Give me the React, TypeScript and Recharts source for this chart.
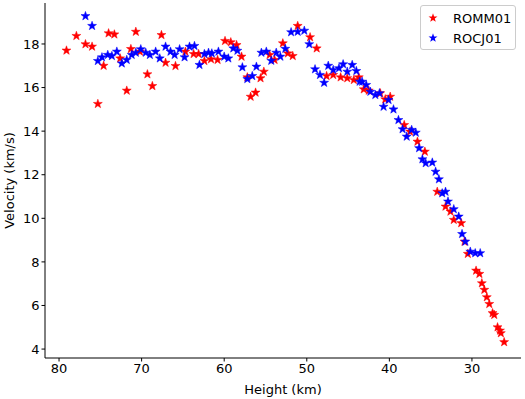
import { Scatter, ScatterChart, XAxis, YAxis } from "recharts";

// ROMM01 (red)
const rommHeight = [
  79.1, 77.9, 76.8, 76.0, 75.3, 74.6, 74.0, 73.3, 72.6, 71.8, 71.3, 70.7, 70.2,
  69.3, 68.7, 67.6, 67.1, 65.9, 64.7, 63.7, 63.1, 62.4, 61.6, 60.8, 59.9, 59.2,
  58.5, 57.9, 57.2, 56.8, 56.2, 55.6, 55.2, 54.5, 53.9, 52.9, 52.3, 51.7, 51.1,
  49.6, 48.8, 47.6, 46.8, 45.9, 45.1, 44.3, 43.7, 43.1, 42.5, 41.1, 40.5, 39.9,
  38.2, 37.5, 36.6, 35.7, 34.2, 33.2, 32.6, 32.2, 31.3, 30.9, 30.5, 29.5, 29.1,
  28.8, 28.5, 28.2, 27.9, 27.5, 27.3, 26.9, 26.6, 26.5, 26.1,
];
const rommVelocity = [
  17.7, 18.37, 17.99, 17.88, 15.25, 17.0, 18.49, 18.44, 17.34, 15.86, 17.77,
  18.56, 17.65, 16.61, 16.07, 18.41, 17.14, 16.99, 17.65, 17.54, 17.54, 17.22,
  17.3, 17.27, 18.14, 18.08, 17.95, 17.42, 16.47, 15.58, 15.77, 16.43, 16.73,
  17.5, 17.27, 18.03, 17.57, 17.45, 18.83, 18.31, 17.8, 16.53, 16.58, 16.47,
  16.43, 16.35, 16.47, 15.92, 15.86, 15.74, 15.46, 15.58, 14.28, 13.98, 13.52,
  13.06, 11.22, 10.54, 10.31, 9.93, 9.78, 8.93, 8.37, 7.6, 7.45, 7.02, 6.72,
  6.38, 6.07, 5.65, 5.57, 5.0, 4.85, 4.73, 4.32,
];

// ROCJ01 (blue)
const rocjHeight = [
  76.8, 76.0, 75.3, 74.8, 74.1, 73.6, 73.0, 72.4, 71.8, 71.2, 70.7, 70.1, 69.5,
  69.0, 68.3, 67.8, 67.1, 66.5, 66.0, 65.4, 64.8, 64.2, 63.6, 63.0, 62.4, 61.9,
  61.5, 60.7, 60.0, 59.5, 58.9, 58.4, 57.8, 57.2, 56.6, 56.1, 55.5, 54.9, 54.3,
  53.7, 53.2, 52.6, 51.9, 51.1, 50.3, 49.7, 49.0, 48.4, 47.9, 47.4, 46.8, 46.1,
  45.6, 45.1, 44.5, 44.0, 43.6, 43.3, 42.8, 42.3, 41.7, 41.2, 40.7, 40.1, 39.5,
  38.9, 38.4, 37.9, 37.3, 36.8, 36.4, 36.0, 35.6, 34.8, 34.4, 34.0, 33.6, 33.2,
  32.9, 32.2, 31.6, 31.2, 30.8, 30.2, 29.6, 29.0,
];
const rocjVelocity = [
  19.28, 18.83, 17.22, 17.39, 17.5, 17.45, 17.65, 17.11, 17.27, 17.5, 17.6,
  17.76, 17.6, 17.5, 17.65, 17.34, 17.88, 17.65, 17.5, 17.76, 17.39, 17.88,
  17.91, 17.04, 17.54, 17.6, 17.57, 17.65, 17.42, 17.34, 17.8, 17.69, 16.93,
  16.39, 16.53, 16.96, 17.6, 17.65, 17.23, 17.6, 17.42, 17.78, 18.54, 18.56,
  18.61, 17.99, 16.84, 16.58, 16.22, 17.0, 16.81, 16.89, 17.07, 16.73, 17.04,
  16.76, 16.27, 16.27, 16.12, 15.81, 15.66, 15.74, 15.12, 15.43, 15.0, 14.51,
  14.09, 13.75, 14.06, 13.93, 13.22, 12.71, 12.53, 12.56, 12.14, 11.79, 11.15,
  11.22, 10.77, 10.42, 10.08, 9.28, 8.93, 8.47, 8.4, 8.4,
];

const xTicks = [30, 40, 50, 60, 70, 80];
const yTicks = [4, 6, 8, 10, 12, 14, 16, 18];

const SERIES = [
  { name: "ROMM01", color: "#ff0000" },
  { name: "ROCJ01", color: "#0000ff" },
];

const romm = rommHeight.map((h, i) => ({ h, v: rommVelocity[i] }));
const rocj = rocjHeight.map((h, i) => ({ h, v: rocjVelocity[i] }));

const FONT = "'DejaVu Sans', sans-serif";
const FS = 13;
const X_DOMAIN = [24.06, 81.7];
const Y_DOMAIN = [3.59, 19.88];

function starPoints(cx: number, cy: number, r: number) {
  const inner = r * 0.4;
  const pts: string[] = [];
  for (let k = 0; k < 10; k++) {
    const rad = k % 2 === 0 ? r : inner;
    const a = -Math.PI / 2 + (k * Math.PI) / 5;
    pts.push(`${cx + rad * Math.cos(a)},${cy + rad * Math.sin(a)}`);
  }
  return pts.join(" ");
}

const makeStar = (color: string) => (props: any) => {
  const { cx, cy } = props;
  if (cx == null || cy == null) return <g />;
  return (
    <polygon
      points={starPoints(cx, cy, 4.7)}
      fill={color}
      stroke={color}
      strokeWidth={0.5}
    />
  );
};

function LegendBox() {
  return (
    <div
      style={{
        position: "absolute",
        left: 420,
        top: 5,
        width: 96,
        height: 45,
        boxSizing: "border-box",
        border: "1px solid #cccccc",
        borderRadius: 3,
        background: "rgba(255,255,255,0.8)",
        padding: "2px 0 0 6px",
        fontFamily: FONT,
        fontSize: FS,
        color: "#000",
      }}
    >
      {SERIES.map((s) => (
        <div
          key={s.name}
          style={{ display: "flex", alignItems: "center", height: 20 }}
        >
          <svg width={26} height={12}>
            <polygon points={starPoints(6, 6, 4.7)} fill={s.color} />
          </svg>
          <span>{s.name}</span>
        </div>
      ))}
    </div>
  );
}

export default function App() {
  return (
    <div
      style={{ position: "relative", width: 525, height: 399, background: "white" }}
    >
      <style>{`body { margin: 0; }`}</style>
      <ScatterChart
        width={525}
        height={399}
        margin={{ top: 3, right: 4, left: 0, bottom: 0 }}
      >
        <XAxis
          xAxisId="main"
          type="number"
          dataKey="h"
          domain={X_DOMAIN}
          reversed
          ticks={xTicks}
          allowDataOverflow
          height={41}
          tick={{ fontSize: FS, fill: "#000", fontFamily: FONT }}
          tickSize={3.5}
          tickLine={{ stroke: "#000" }}
          axisLine={{ stroke: "#000" }}
          label={{
            value: "Height (km)",
            position: "insideBottom",
            offset: 5,
            fontSize: FS,
            fill: "#000",
            fontFamily: FONT,
          }}
        />
        <XAxis
          xAxisId="top"
          orientation="top"
          type="number"
          domain={X_DOMAIN}
          height={0}
          tick={false}
          tickLine={false}
          axisLine={{ stroke: "#000" }}
        />
        <YAxis
          yAxisId="main"
          type="number"
          dataKey="v"
          domain={Y_DOMAIN}
          ticks={yTicks}
          allowDataOverflow
          width={45}
          tick={{ fontSize: FS, fill: "#000", fontFamily: FONT }}
          tickSize={3.5}
          tickLine={{ stroke: "#000" }}
          axisLine={{ stroke: "#000" }}
          label={{
            value: "Velocity (km/s)",
            angle: -90,
            position: "insideLeft",
            offset: 9,
            style: { textAnchor: "middle" },
            fontSize: FS,
            fill: "#000",
            fontFamily: FONT,
          }}
        />
        <YAxis
          yAxisId="right"
          orientation="right"
          type="number"
          domain={Y_DOMAIN}
          width={0}
          tick={false}
          tickLine={false}
          axisLine={{ stroke: "#000" }}
        />
        <Scatter
          name={SERIES[0].name}
          data={romm}
          xAxisId="main"
          yAxisId="main"
          fill={SERIES[0].color}
          shape={makeStar(SERIES[0].color)}
          isAnimationActive={false}
        />
        <Scatter
          name={SERIES[1].name}
          data={rocj}
          xAxisId="main"
          yAxisId="main"
          fill={SERIES[1].color}
          shape={makeStar(SERIES[1].color)}
          isAnimationActive={false}
        />
      </ScatterChart>
      <LegendBox />
    </div>
  );
}
